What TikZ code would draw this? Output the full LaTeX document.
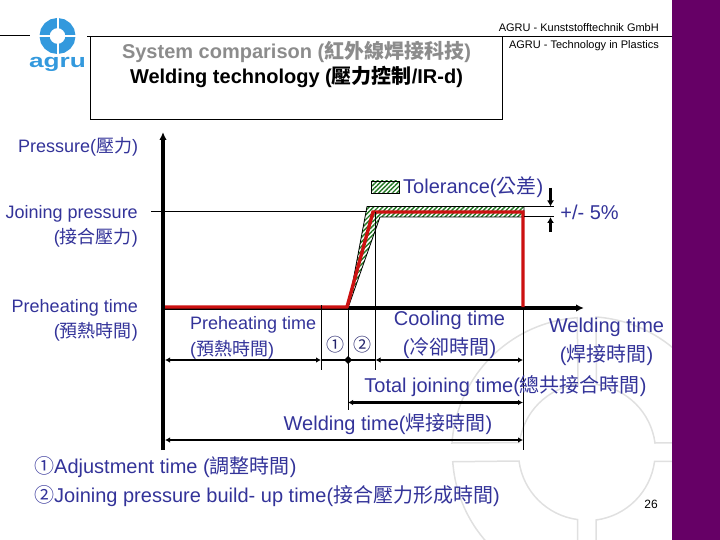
\documentclass[tikz,border=0pt]{standalone}
\usepackage{fontspec}
\setmainfont{Liberation Sans}
\newfontfamily\cjkf{Noto Sans CJK TC}
\newcommand{\zh}[1]{{\cjkf #1}}
\usetikzlibrary{arrows.meta,patterns.meta}
\definecolor{txtblue}{HTML}{333399}
\definecolor{plum}{HTML}{660066}
\definecolor{logoblue}{HTML}{3399DD}
\definecolor{curve}{HTML}{CC1111}
\definecolor{hatchgreen}{HTML}{227722}
\definecolor{wm}{HTML}{E0E0E0}
\newcommand{\fsz}[1]{\fontsize{#1}{#1}\selectfont}
\tikzset{
  lbl/.style={text=txtblue,font=\fsz{20},align=center,inner sep=0pt},
  lblr/.style={text=txtblue,font=\fsz{18},align=right,inner sep=0pt},
  thin line/.style={draw=black,line width=1pt},
  dim/.style={draw=black,line width=2pt,{Latex[length=5pt,width=5.5pt]}-{Latex[length=5pt,width=5.5pt]}},
  dimthick/.style={draw=black,line width=3pt,{Latex[length=5pt,width=5.5pt]}-{Latex[length=5pt,width=5.5pt]}},
  dimend/.style={draw=black,line width=3pt,-{Latex[length=6pt,width=7pt]}},
  axis/.style={draw=black,line width=3.2pt,-{Latex[length=8pt,width=7.5pt]}},
  hatchbox/.style={draw=black,line width=.8pt,pattern={Lines[angle=45,distance=3.2pt,line width=1.4pt]},pattern color=hatchgreen},
  redline/.style={draw=curve,line width=3.4pt,line join=miter},
  wmline/.style={draw=wm,line width=1.5pt,fill=none},
  small/.style={text=black,font=\fsz{11},inner sep=0pt},
}
\begin{document}
\begin{tikzpicture}[x=1pt,y=-1pt]
\useasboundingbox (0,0) rectangle (720,540);
% watermark
\begin{scope}
\clip (440,300) rectangle (672,540);
\foreach \a in {0,90,180,270}{
  \begin{scope}[shift={(587,452)},rotate=\a]
    \draw[wmline] (9,-135) arc[start angle=-86,end angle=-4,radius=135] -- (68,-9)
      arc[start angle=-7.5,end angle=-82.5,radius=68] -- cycle;
  \end{scope}}
\end{scope}
\fill[plum] (672,0) rectangle (720,540);
% header lines
\coordinate (hl0) at (0,36); \coordinate (hl1) at (30,36);
\draw[thin line] (hl0) -- (hl1);
\coordinate (tl) at (90.5,36.5); \coordinate (tr) at (672,36.5);
\draw[thin line] (87,36.5) -- (tr);
\coordinate (bl) at (90.5,120); \coordinate (br) at (502.5,120); \coordinate (trv) at (502.5,36.5);
\draw[thin line] (tl) -- (bl) -- (br) -- (trv);
% logo
\draw[logoblue,line width=10pt] (57.5,36) circle[radius=13];
\draw[white,line width=2pt] (57.5,16) -- (57.5,30) (57.5,42) -- (57.5,56) (37,36) -- (51,36) (64,36) -- (78,36);
\node[font=\fsz{19}\bfseries,text=logoblue,inner sep=0pt,xscale=1.38] (logo) at (57.5,64) {agru};
% header text
\node[text=gray!90,font=\bfseries\fsz{20},inner sep=0pt] (t1) at (296.5,52) {System comparison (\zh{紅外線焊接科技})};
\node[text=black,font=\bfseries\fsz{20},inner sep=0pt] (t2) at (296.5,77) {Welding technology (\zh{壓力控制}/IR-d)};
\node[small,anchor=east] (ag1) at (659,28) {AGRU - Kunststofftechnik GmbH};
\node[small,anchor=east] (ag2) at (659,46) {AGRU - Technology in Plastics};
\node[small,font=\fsz{12}] (pg) at (651,504) {26};
% axes
\coordinate (o) at (163,308); \coordinate (yt) at (163,132); \coordinate (yb) at (163,450); \coordinate (xe) at (584,308);
\draw[axis] (yb) -- (yt);
\draw[axis] (o) -- (xe);
% thin guide lines
\coordinate (jl) at (151,211.5); \coordinate (jr) at (367,211.5);
\draw[thin line] (jl) -- (jr);
% tolerance band
\path[hatchbox] (367,206.5) -- (524,206.5) -- (524,217) -- (380,217) -- (348,308) -- cycle;
\node[hatchbox,minimum width=28pt,minimum height=12pt,inner sep=0pt] (leg) at (385,187) {};
% red curve
\draw[redline] (165,307) -- (347,307) -- (373,212) -- (523,212) -- (523,307);
% vertical guides
\coordinate (a1) at (321,305); \coordinate (a2) at (321,370);
\coordinate (b1) at (348,308); \coordinate (b2) at (348,410);
\coordinate (c1) at (375.5,212); \coordinate (c2) at (375.5,370);
\coordinate (d1) at (523,308); \coordinate (d2) at (523,450);
\draw[thin line] (a1) -- (a2); \draw[thin line] (b1) -- (b2);
\draw[thin line] (c1) -- (c2); \draw[thin line] (d1) -- (d2);
% tolerance ticks
\draw[thin line] (524,206.5) -- (554,206.5);
\draw[thin line] (524,217) -- (554,217);
\coordinate (u1) at (550.5,188); \coordinate (u2) at (550.5,206.5);
\coordinate (v1) at (550.5,232); \coordinate (v2) at (550.5,217);
\draw[dimend] (u1) -- (u2); \draw[dimend] (v1) -- (v2);
% dimension arrows
\draw[dim] (165,360) -- (321,360);
\fill (348,356) -- (352,360) -- (348,364) -- (344,360) -- cycle;
\draw[draw=black,line width=2pt] (321,360) -- (375.5,360);
\draw[dim] (375.5,360) -- (523,360);
\draw[dimthick] (348,402.5) -- (523,402.5);
\draw[dim] (165,440) -- (523,440);
% labels
\node[lblr,anchor=west] (p) at (18,147) {Pressure(\zh{壓力})};
\node[lblr,anchor=east] (jp) at (138,226) {Joining pressure\\[5pt](\zh{接合壓力})};
\node[lblr,anchor=east] (pt) at (138,320) {Preheating time\\[5pt](\zh{預熱時間})};
\node[lbl,anchor=west] (tol) at (403,187) {Tolerance(\zh{公差})};
\node[lbl] (pm) at (589.5,212) {+/- 5\%};
\node[lblr,anchor=west,align=left] (pt2) at (190,338) {Preheating time\\[6pt](\zh{預熱時間})};
\node[text=txtblue!70!black,font=\cjkf\fsz{18},inner sep=0pt] (n1) at (335,345) {①};
\node[text=txtblue!70!black,font=\cjkf\fsz{18},inner sep=0pt] (n2) at (362,345) {②};
\node[lbl] (ct) at (449.5,334.5) {Cooling time\\[7pt](\zh{冷卻時間})};
\node[lbl] (wt) at (606.5,341.5) {Welding time\\[7pt](\zh{焊接時間})};
\node[lbl] (tj) at (505.5,386) {Total joining time(\zh{總共接合時間})};
\node[lbl] (w2) at (388,424.5) {Welding time(\zh{焊接時間})};
\node[lbl,anchor=west,align=left] (n3) at (34,482) {\zh{①}Adjustment time (\zh{調整時間})\\[7pt]\zh{②}Joining pressure build- up time(\zh{接合壓力形成時間})};
\end{tikzpicture}
\end{document}
